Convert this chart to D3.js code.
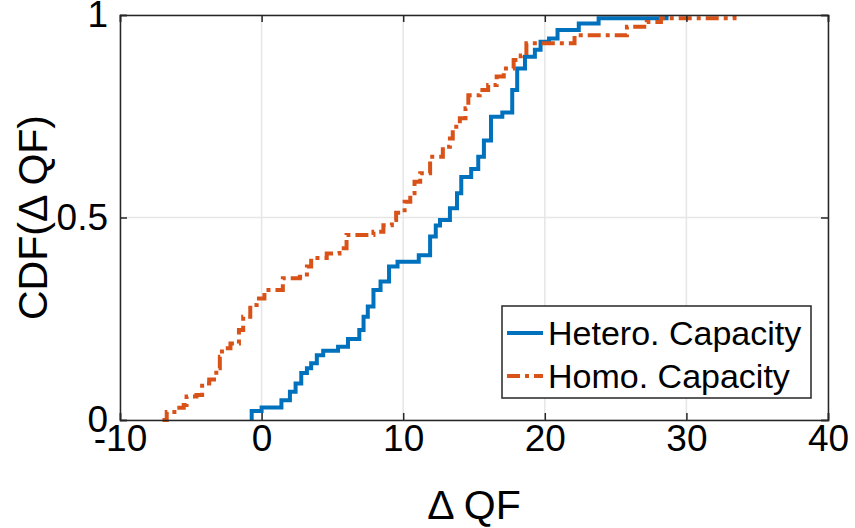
<!DOCTYPE html>
<html>
<head>
<meta charset="utf-8">
<script src="https://cdn.jsdelivr.net/npm/d3@7"></script>
<style>
  body { margin: 0; background: #fff; }
  svg text { font-family: "Liberation Sans", Arial, Helvetica, sans-serif; fill: #000; }
</style>
</head>
<body>
<div id="chart"></div>
<script>
// step points (x, cdf)
const heteroX = [-0.7, -0.7, 0, 1.4, 2.0, 2.4, 2.8, 3.2, 3.5, 3.9, 4.35, 5.4, 6.1, 6.9, 7.2, 7.5, 7.9, 8.4, 9.0, 9.6, 11.1, 11.9, 12.3, 12.6, 13.3, 13.8, 14.1, 14.8, 15.3, 15.7, 16.2, 17.0, 17.7, 18.05, 18.6, 19.3, 19.7, 20.3, 20.9, 22.4, 23.8, 28.6];
const heteroY = [0, 0.022, 0.031, 0.049, 0.07, 0.09, 0.116, 0.128, 0.14, 0.16, 0.171, 0.181, 0.2, 0.222, 0.255, 0.28, 0.321, 0.342, 0.379, 0.391, 0.407, 0.453, 0.48, 0.494, 0.523, 0.56, 0.6, 0.62, 0.65, 0.69, 0.749, 0.759, 0.815, 0.868, 0.897, 0.914, 0.934, 0.942, 0.963, 0.979, 0.992, 1.0];

const homoX = [-7.0, -6.7, -6.0, -5.5, -5.3, -4.6, -4.2, -3.7, -3.2, -2.95, -2.8, -2.2, -1.6, -1.3, -0.8, -0.35, 0.2, 1.5, 2.7, 3.2, 3.5, 4.6, 5.5, 6.0, 7.9, 8.6, 9.2, 9.5, 10.1, 10.5, 10.8, 11.2, 11.9, 12.8, 13.3, 13.5, 14.0, 14.4, 14.6, 15.4, 16.0, 16.6, 17.1, 17.8, 18.3, 18.7, 22.1, 25.8, 27.2, 28.2, 33.4];
const homoY = [0, 0.02, 0.03, 0.037, 0.058, 0.062, 0.09, 0.1, 0.128, 0.156, 0.177, 0.189, 0.222, 0.255, 0.284, 0.3, 0.321, 0.35, 0.354, 0.379, 0.4, 0.411, 0.424, 0.457, 0.465, 0.481, 0.494, 0.512, 0.539, 0.56, 0.588, 0.609, 0.65, 0.675, 0.695, 0.724, 0.745, 0.77, 0.802, 0.815, 0.827, 0.848, 0.868, 0.889, 0.9, 0.93, 0.95, 0.971, 0.983, 0.992, 1.0];

const xTicks = [-10, 0, 10, 20, 30, 40];
const yTicks = [0, 0.5, 1];
const seriesNames = ['Hetero. Capacity', 'Homo. Capacity'];

const W = 855, H = 528;
const margin = { top: 15, right: 27, bottom: 108, left: 120 };
const width = W - margin.left - margin.right;
const height = H - margin.top - margin.bottom;
const axisColor = '#262626';
const gridColor = '#e6e6e6';
const blue = '#0072BD', orange = '#D95319';
const dashDot = '13,5,4,5';

const svg = d3.select('#chart').append('svg')
    .attr('width', W)
    .attr('height', H);
const g = svg.append('g')
    .attr('transform', 'translate(' + margin.left + ',' + margin.top + ')');

const x = d3.scaleLinear().domain([-10, 40]).range([0, width]);
const y = d3.scaleLinear().domain([0, 1]).range([height, 0]);

// grid
g.append('g').selectAll('line.gx')
    .data(xTicks).enter().append('line')
    .attr('x1', d => x(d)).attr('x2', d => x(d))
    .attr('y1', 0).attr('y2', height)
    .attr('stroke', gridColor).attr('stroke-width', 1.5);
g.append('g').selectAll('line.gy')
    .data(yTicks).enter().append('line')
    .attr('x1', 0).attr('x2', width)
    .attr('y1', d => y(d)).attr('y2', d => y(d))
    .attr('stroke', gridColor).attr('stroke-width', 1.5);

// curves
const line = d3.line()
    .x(d => x(d[0]))
    .y(d => y(d[1]))
    .curve(d3.curveStepAfter);

g.append('path')
    .datum(heteroX.map((v, i) => [v, heteroY[i]]))
    .attr('fill', 'none')
    .attr('stroke', blue)
    .attr('stroke-width', 4)
    .attr('d', line);

g.append('path')
    .datum(homoX.map((v, i) => [v, homoY[i]]))
    .attr('fill', 'none')
    .attr('stroke', orange)
    .attr('stroke-width', 4)
    .attr('stroke-dasharray', dashDot)
    .attr('d', line);

// axes
const tickFont = 37;
const xAxis = g.append('g')
    .attr('transform', 'translate(0,' + height + ')')
    .call(d3.axisBottom(x).tickValues(xTicks).tickSize(-7).tickPadding(5));
const xTop = g.append('g')
    .call(d3.axisTop(x).tickValues(xTicks).tickSize(-7).tickFormat(''));
const yAxis = g.append('g')
    .call(d3.axisLeft(y).tickValues(yTicks).tickSize(-7).tickPadding(12).tickFormat(d => d === 0.5 ? '0.5' : d3.format('d')(d)));
const yRight = g.append('g')
    .attr('transform', 'translate(' + width + ',0)')
    .call(d3.axisRight(y).tickValues(yTicks).tickSize(-7).tickFormat(''));

[xAxis, xTop, yAxis, yRight].forEach(a => {
    a.select('.domain').attr('stroke', axisColor).attr('stroke-width', 1.5);
    a.selectAll('.tick line').attr('stroke', axisColor).attr('stroke-width', 1.5);
    a.selectAll('.tick text')
        .style('font-family', '"Liberation Sans", Arial, sans-serif')
        .style('font-size', tickFont + 'px')
        .attr('fill', '#000');
});
xAxis.selectAll('.tick text').text(d => d < 0 ? '-' + Math.abs(d) : d);

// axis labels
svg.append('text')
    .attr('x', margin.left + width / 2)
    .attr('y', 519)
    .attr('text-anchor', 'middle')
    .style('font-size', '41px')
    .text('\u0394 QF');

svg.append('text')
    .attr('transform', 'translate(47,' + (margin.top + height / 2) + ') rotate(-90)')
    .attr('text-anchor', 'middle')
    .style('font-size', '41px')
    .text('CDF(\u0394 QF)');

// legend
const legend = svg.append('g').attr('transform', 'translate(502,306)');
legend.append('rect')
    .attr('width', 309).attr('height', 92)
    .attr('fill', '#fff')
    .attr('stroke', axisColor).attr('stroke-width', 1.5);
const legendRows = [
    { name: seriesNames[0], color: blue, dash: null, cy: 27 },
    { name: seriesNames[1], color: orange, dash: dashDot, cy: 70 }
];
legendRows.forEach(r => {
    legend.append('line')
        .attr('x1', 5).attr('x2', 41)
        .attr('y1', r.cy).attr('y2', r.cy)
        .attr('stroke', r.color).attr('stroke-width', 4)
        .attr('stroke-dasharray', r.dash);
    legend.append('text')
        .attr('x', 46).attr('y', r.cy)
        .attr('dy', '0.36em')
        .style('font-size', '34px')
        .text(r.name);
});
</script>
</body>
</html>
